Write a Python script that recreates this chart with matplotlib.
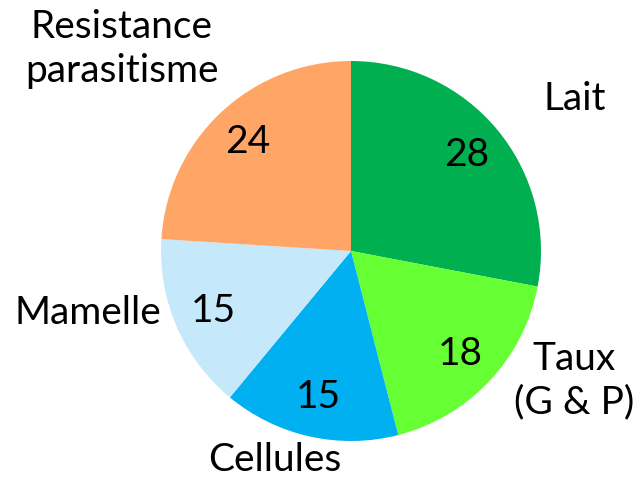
import matplotlib.pyplot as plt

# data
categories = ['Lait', 'Taux\n(G & P)', 'Cellules', 'Mamelle', 'Resistance\nparasitisme']
values = [28, 18, 15, 15, 24]
colors = ['#00B050', '#66FF33', '#00B0F0', '#C5E9FB', '#FFA566']

plt.rcParams['font.family'] = ['Lato', 'DejaVu Sans']

fig = plt.figure(figsize=(6.39, 4.78), dpi=100)
ax = fig.add_axes([0, 0, 1, 1])

ax.pie(values, colors=colors, startangle=90, counterclock=False,
       center=(351, 227), radius=190,
       autopct=lambda p: '%d' % round(p), pctdistance=0.79,
       textprops={'fontsize': 28, 'color': 'black'}, frame=True)

# category labels (pixel positions, y measured from bottom)
label_pos = [(575, 379), (574, 97), (275, 18), (88, 165), (122, 429)]
for name, (x, y) in zip(categories, label_pos):
    ax.text(x, y, name, ha='center', va='center', fontsize=28, linespacing=1.25)

ax.set_xlim(0, 639)
ax.set_ylim(0, 478)
ax.set_aspect('auto')
ax.axis('off')

plt.savefig('out.png', dpi=100)
